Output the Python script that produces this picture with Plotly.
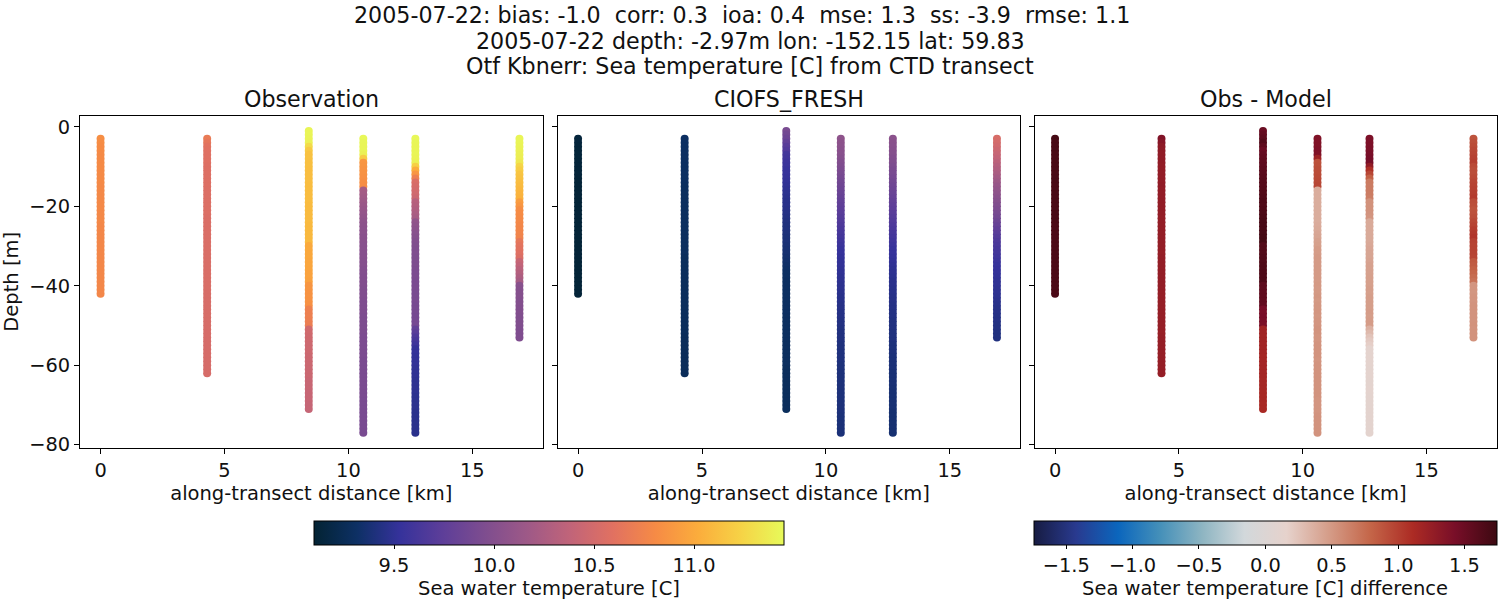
import plotly.graph_objects as go
import numpy as np

# along-transect distance of each CTD station [km]
station_km = [0.0, 4.3, 8.4, 10.6, 12.7, 16.9]

depth_0 = [-3, -4, -5, -6, -7, -8, -9, -10, -11, -12, -13, -14, -15, -16, -17, -18, -19, -20, -21, -22,
           -23, -24, -25, -26, -27, -28, -29, -30, -31, -32, -33, -34, -35, -36, -37, -38, -39, -40, -41, -42]
depth_1 = depth_0 + [-43, -44, -45, -46, -47, -48, -49, -50, -51, -52, -53, -54, -55, -56, -57, -58, -59, -60, -61, -62]
depth_2 = [-1, -2] + depth_1 + [-63, -64, -65, -66, -67, -68, -69, -70, -71]
depth_3 = depth_2[2:] + [-72, -73, -74, -75, -76, -77]
depth_4 = depth_3
depth_5 = depth_0 + [-43, -44, -45, -46, -47, -48, -49, -50, -51, -52, -53]

obs_0 = [10.83, 10.82, 10.81, 10.81, 10.80, 10.80, 10.80, 10.80, 10.80, 10.80,
         10.80, 10.80, 10.79, 10.79, 10.79, 10.79, 10.79, 10.79, 10.79, 10.79,
         10.79, 10.79, 10.78, 10.78, 10.78, 10.78, 10.78, 10.78, 10.78, 10.78,
         10.78, 10.78, 10.78, 10.78, 10.78, 10.78, 10.78, 10.78, 10.78, 10.78]
obs_1 = [10.68, 10.64, 10.60, 10.59, 10.58, 10.58, 10.58, 10.57, 10.57, 10.57,
         10.57, 10.57, 10.57, 10.56, 10.56, 10.56, 10.56, 10.56, 10.56, 10.56,
         10.55, 10.55, 10.55, 10.55, 10.55, 10.55, 10.55, 10.55, 10.55, 10.54,
         10.54, 10.54, 10.54, 10.54, 10.54, 10.54, 10.54, 10.54, 10.54, 10.53,
         10.53, 10.53, 10.53, 10.53, 10.53, 10.53, 10.53, 10.53, 10.53, 10.52,
         10.52, 10.52, 10.52, 10.52, 10.52, 10.52, 10.52, 10.52, 10.52, 10.52]
obs_2 = [11.42, 11.42, 11.41, 11.40, 11.28, 11.18,
         11.14, 11.14, 11.13, 11.13, 11.12, 11.12, 11.12, 11.12, 11.11, 11.11, 11.11, 11.11,
         11.11, 11.10, 11.10, 11.10, 11.10, 11.10, 11.09, 11.09, 11.09, 11.09, 11.09,
         11.00, 11.00, 10.99, 10.99, 10.98, 10.98, 10.97, 10.96, 10.96, 10.95,
         10.87, 10.87, 10.86, 10.86, 10.85, 10.84,
         10.73, 10.72, 10.72, 10.71, 10.70,
         10.48, 10.48, 10.47, 10.47, 10.46, 10.46, 10.46, 10.45, 10.45, 10.45,
         10.44, 10.44, 10.44, 10.43, 10.43, 10.43, 10.42, 10.42, 10.42, 10.41, 10.41]
obs_3 = [11.44, 11.43, 11.42, 11.42, 11.40, 11.20,
         10.88, 10.87, 10.86, 10.85, 10.84, 10.83, 10.82,
         10.22, 10.20, 10.18, 10.16, 10.14, 10.12, 10.10, 10.08, 10.06, 10.05,
         10.04, 10.04, 10.03, 10.03, 10.02, 10.02, 10.01, 10.01, 10.00, 10.00,
         9.99, 9.99, 9.98, 9.98, 9.98, 9.97, 9.97, 9.97, 9.96, 9.96,
         9.96, 9.96, 9.95, 9.95, 9.95, 9.95, 9.95, 9.94, 9.94, 9.94,
         9.94, 9.94, 9.94, 9.93, 9.93, 9.93, 9.93, 9.93, 9.93, 9.93,
         9.93, 9.93, 9.93, 9.92, 9.92, 9.92, 9.92, 9.92, 9.92, 9.92, 9.92, 9.92]
obs_4 = [11.44, 11.43, 11.42, 11.42, 11.42, 11.41, 11.40, 11.22, 11.02, 10.88, 10.72,
         10.55, 10.52, 10.50, 10.48, 10.45,
         10.32, 10.30, 10.28, 10.25, 10.22,
         10.08, 10.06, 10.04, 10.02, 10.00, 9.98, 9.97,
         9.96, 9.96, 9.95, 9.95, 9.95, 9.94, 9.94, 9.94, 9.93, 9.93,
         9.93, 9.92, 9.92, 9.92, 9.91, 9.91, 9.91, 9.90, 9.90, 9.90,
         9.78, 9.72, 9.66, 9.62, 9.58,
         9.52, 9.52, 9.51, 9.51, 9.51, 9.50, 9.50, 9.50, 9.49, 9.49, 9.49,
         9.49, 9.48, 9.48, 9.48, 9.48, 9.47, 9.47, 9.47, 9.47, 9.47, 9.47]
obs_5 = [11.42, 11.42, 11.41, 11.40, 11.39, 11.38, 11.35,
         11.25, 11.20, 11.16, 11.14, 11.12, 11.10, 11.08, 11.06, 11.05,
         10.92, 10.88,
         10.82, 10.81, 10.80, 10.79, 10.78, 10.77, 10.76, 10.75,
         10.65, 10.62, 10.60, 10.58, 10.55,
         10.42, 10.38, 10.34, 10.30, 10.26, 10.22,
         10.02, 10.01, 10.00, 10.00, 9.99, 9.99, 9.98, 9.98, 9.97, 9.97, 9.97, 9.96, 9.96, 9.96]

model_0 = [9.14, 9.14, 9.13, 9.13, 9.13, 9.13, 9.13, 9.13, 9.13, 9.13,
           9.12, 9.12, 9.12, 9.12, 9.12, 9.12, 9.12, 9.12, 9.12, 9.12,
           9.12, 9.12, 9.12, 9.12, 9.12, 9.12, 9.12, 9.12, 9.12, 9.12,
           9.12, 9.12, 9.12, 9.12, 9.12, 9.12, 9.12, 9.12, 9.12, 9.12]
model_1 = [9.30, 9.30, 9.30, 9.30, 9.30, 9.30, 9.30, 9.30, 9.30, 9.30,
           9.30, 9.30, 9.29, 9.29, 9.29, 9.29, 9.29, 9.29, 9.29, 9.29,
           9.29, 9.29, 9.29, 9.29, 9.29, 9.29, 9.29, 9.29, 9.29, 9.29,
           9.28, 9.28, 9.28, 9.28, 9.28, 9.28, 9.28, 9.28, 9.28, 9.28,
           9.28, 9.28, 9.28, 9.28, 9.28, 9.28, 9.28, 9.28, 9.28, 9.28,
           9.27, 9.27, 9.27, 9.27, 9.27, 9.27, 9.27, 9.27, 9.27, 9.27]
model_2 = [9.92, 9.88, 9.84, 9.78, 9.72, 9.68, 9.61, 9.59, 9.57, 9.56,
           9.54, 9.53, 9.52, 9.51, 9.50, 9.49, 9.48, 9.47, 9.46, 9.46,
           9.45, 9.44, 9.43, 9.42, 9.41, 9.41, 9.40, 9.39, 9.39, 9.38,
           9.37, 9.36, 9.35, 9.34, 9.33, 9.32, 9.31, 9.31, 9.30, 9.30,
           9.30, 9.30, 9.30, 9.30, 9.30, 9.30, 9.30, 9.29, 9.29, 9.29,
           9.29, 9.29, 9.29, 9.29, 9.29, 9.29, 9.29, 9.29, 9.29, 9.29,
           9.28, 9.28, 9.28, 9.28, 9.28, 9.28, 9.28, 9.28, 9.28, 9.28, 9.28]
model_3 = [10.06, 10.05, 10.04, 10.03, 10.02, 10.00, 9.98, 9.96, 9.94, 9.92,
           9.90, 9.88, 9.86, 9.84, 9.82, 9.80, 9.78, 9.76, 9.74, 9.72,
           9.70, 9.68, 9.66, 9.64, 9.62, 9.60, 9.58, 9.56, 9.54, 9.53,
           9.52, 9.51, 9.51, 9.50, 9.50, 9.49, 9.49, 9.48, 9.48, 9.47,
           9.46, 9.46, 9.45, 9.45, 9.44, 9.44, 9.43, 9.43, 9.42, 9.42,
           9.42, 9.42, 9.41, 9.41, 9.41, 9.41, 9.41, 9.40, 9.40, 9.40,
           9.40, 9.40, 9.40, 9.40, 9.40, 9.40, 9.40, 9.40, 9.40, 9.40,
           9.39, 9.39, 9.39, 9.39, 9.39]
model_4 = [10.04, 10.03, 10.02, 10.01, 10.00, 9.98, 9.97, 9.95, 9.93, 9.92,
           9.90, 9.88, 9.86, 9.84, 9.82, 9.80, 9.78, 9.76, 9.74, 9.72,
           9.70, 9.68, 9.66, 9.64, 9.62, 9.60, 9.58, 9.56, 9.54, 9.53,
           9.52, 9.51, 9.50, 9.49, 9.49, 9.48, 9.47, 9.47, 9.46, 9.46,
           9.45, 9.45, 9.44, 9.44, 9.43, 9.43, 9.42, 9.42, 9.42, 9.41,
           9.41, 9.41, 9.40, 9.40, 9.40, 9.39, 9.39, 9.39, 9.39, 9.38,
           9.38, 9.38, 9.38, 9.37, 9.37, 9.37, 9.37, 9.37, 9.37, 9.36,
           9.36, 9.36, 9.36, 9.36, 9.36]
model_5 = [10.53, 10.51, 10.48, 10.45, 10.42, 10.39, 10.35, 10.31, 10.28, 10.24,
           10.20, 10.16, 10.12, 10.09, 10.06, 10.03, 10.00, 9.97, 9.94, 9.91,
           9.88, 9.84, 9.80, 9.76, 9.72, 9.69, 9.66, 9.64, 9.62, 9.60,
           9.58, 9.56, 9.54, 9.53, 9.52, 9.51, 9.50, 9.50, 9.49, 9.49,
           9.48, 9.47, 9.46, 9.45, 9.45, 9.44, 9.44, 9.43, 9.43, 9.42, 9.42]

x_ticks = [0, 5, 10, 15]
y_ticks = [0, -20, -40, -60, -80]
temp_ticks = [9.5, 10.0, 10.5, 11.0]
diff_ticks = [-1.5, -1.0, -0.5, 0.0, 0.5, 1.0, 1.5]

title_lines = ["2005-07-22: bias: -1.0  corr: 0.3  ioa: 0.4  mse: 1.3  ss: -3.9  rmse: 1.1",
               "2005-07-22 depth: -2.97m lon: -152.15 lat: 59.83",
               "Otf Kbnerr: Sea temperature [C] from CTD transect"]
panel_titles = ["Observation", "CIOFS_FRESH", "Obs - Model"]

W, H = 1500, 600
FONT = "DejaVu Sans"
TEXT = "#111111"

depths = [depth_0, depth_1, depth_2, depth_3, depth_4, depth_5]
obs = [obs_0, obs_1, obs_2, obs_3, obs_4, obs_5]
model = [model_0, model_1, model_2, model_3, model_4, model_5]

x_all, y_all, obs_all, model_all = [], [], [], []
for km, d, o, m in zip(station_km, depths, obs, model):
    x_all += [km] * len(d)
    y_all += d
    obs_all += o
    model_all += m
diff_all = (np.array(obs_all) - np.array(model_all)).tolist()

fig = go.Figure()
for i, (vals, cax) in enumerate([(obs_all, "coloraxis"), (model_all, "coloraxis"), (diff_all, "coloraxis2")]):
    suffix = "" if i == 0 else str(i + 1)
    fig.add_trace(go.Scatter(x=x_all, y=y_all, mode="markers", xaxis="x" + suffix, yaxis="y" + suffix,
                             marker=dict(color=vals, coloraxis=cax, size=8, line=dict(width=0)),
                             showlegend=False))

# panel edges in pixels of the 1500x600 page
panels = [(80, 542.5), (557.5, 1020), (1034.5, 1496.5)]
top, bottom = 115.8, 447.8
axis_style = dict(showgrid=False, zeroline=False, showline=True, linecolor="black", linewidth=1, mirror=True,
                  ticks="outside", ticklen=5, tickwidth=1, tickcolor="black",
                  tickfont=dict(family=FONT, size=19.4, color=TEXT))
layout = {}
for i, (left, right) in enumerate(panels):
    suffix = "" if i == 0 else str(i + 1)
    layout["xaxis" + suffix] = dict(axis_style, domain=[left / W, right / W], range=[-0.83, 17.83],
                                    tickvals=x_ticks, anchor="y" + suffix,
                                    title=dict(text="along-transect distance [km]", standoff=5,
                                               font=dict(family=FONT, size=19.5, color=TEXT)))
    layout["yaxis" + suffix] = dict(axis_style, domain=[1 - bottom / H, 1 - top / H], range=[-80.8, 2.8],
                                    tickvals=y_ticks, anchor="x" + suffix, showticklabels=i == 0)
    fig.add_annotation(text=panel_titles[i], xref="paper", yref="paper", x=(left + right) / 2 / W, y=1 - 99 / H,
                       xanchor="center", yanchor="middle", showarrow=False,
                       font=dict(family=FONT, size=22.2, color=TEXT))
layout["yaxis"]["title"] = dict(text="Depth [m]", standoff=5, font=dict(family=FONT, size=19.5, color=TEXT))

for line, xc, yc in zip(title_lines, [742, 750, 750], [15, 41, 66]):
    fig.add_annotation(text=line, xref="paper", yref="paper", x=xc / W, y=1 - yc / H,
                       xanchor="center", yanchor="middle", showarrow=False,
                       font=dict(family=FONT, size=22.2, color=TEXT))

# colorbar labels sit closer to the ticks than plotly's own title would
for label, xc in [("Sea water temperature [C]", 549), ("Sea water temperature [C] difference", 1265)]:
    fig.add_annotation(text=label, xref="paper", yref="paper", x=xc / W, y=1 - 588 / H,
                       xanchor="center", yanchor="middle", showarrow=False,
                       font=dict(family=FONT, size=19.5, color=TEXT))

def colorbar(left, right, ticks):
    return dict(orientation="h", x=(left + right) / 2 / W, xanchor="center", y=1 - 521 / H, yanchor="top",
                len=right - left, lenmode="pixels", thickness=24, thicknessmode="pixels", xpad=0, ypad=0,
                outlinecolor="black", outlinewidth=1, ticks="outside", ticklen=3.5, tickwidth=1, tickcolor="black",
                tickvals=ticks, tickformat=".1f", tickfont=dict(family=FONT, size=19.4, color=TEXT))

fig.update_layout(
    width=W,
    height=H,
    margin=dict(l=0, r=0, t=0, b=0, autoexpand=False),
    paper_bgcolor="white",
    plot_bgcolor="white",
    coloraxis=dict(colorscale="thermal", cmin=9.1, cmax=11.45, colorbar=colorbar(314, 784, temp_ticks)),
    coloraxis2=dict(colorscale="balance", cmin=-1.744, cmax=1.744, colorbar=colorbar(1034, 1496.7, diff_ticks)),
    **layout,
)

fig.write_html("out.html", config={"displayModeBar": False}, post_script="document.body.style.margin='0';")
